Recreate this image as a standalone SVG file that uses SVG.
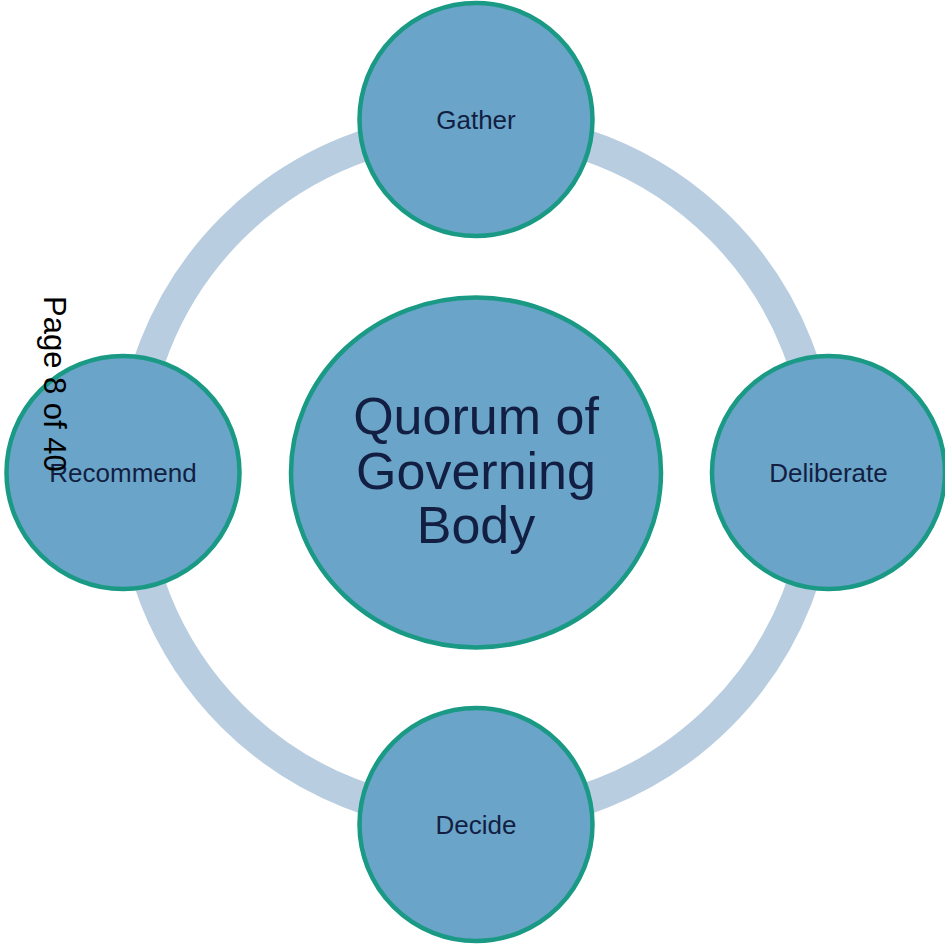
<svg xmlns="http://www.w3.org/2000/svg" width="945" height="947" viewBox="0 0 945 947">
<style>
.node{fill:#6aa4c8;stroke:#1a9a85;stroke-width:4.5}
.lbl{font-family:"Liberation Sans",Arial,sans-serif;font-size:26px;fill:#121f42;text-anchor:middle}
.big{font-family:"Liberation Sans",Arial,sans-serif;font-size:52px;fill:#121f42;text-anchor:middle}
</style>
<rect width="945" height="947" fill="#ffffff"/>
<g id="connectors">
<circle cx="476" cy="472" r="345" fill="none" stroke="#b8cde0" stroke-width="31"/>
</g>
<g id="center">
<ellipse class="node" cx="476" cy="472.5" rx="185" ry="175"/>
<text class="big" x="476" y="434">Quorum of</text>
<text class="big" x="476" y="488.5">Governing</text>
<text class="big" x="476" y="543">Body</text>
</g>
<g id="gather">
<circle class="node" cx="476" cy="119.5" r="116.5"/>
<text class="lbl" x="476" y="128.5">Gather</text>
</g>
<g id="deliberate">
<circle class="node" cx="828.5" cy="472.5" r="116.5"/>
<text class="lbl" x="828.5" y="481.5">Deliberate</text>
</g>
<g id="decide">
<circle class="node" cx="476" cy="824.5" r="116.5"/>
<text class="lbl" x="476" y="833.5">Decide</text>
</g>
<g id="recommend">
<circle class="node" cx="123" cy="472.5" r="116.5"/>
<text class="lbl" x="123" y="481.5">Recommend</text>
</g>
<text transform="translate(44,296) rotate(90)" font-family="'Liberation Sans',Arial,sans-serif" font-size="31" fill="#000000">Page 8 of 40</text>
</svg>
